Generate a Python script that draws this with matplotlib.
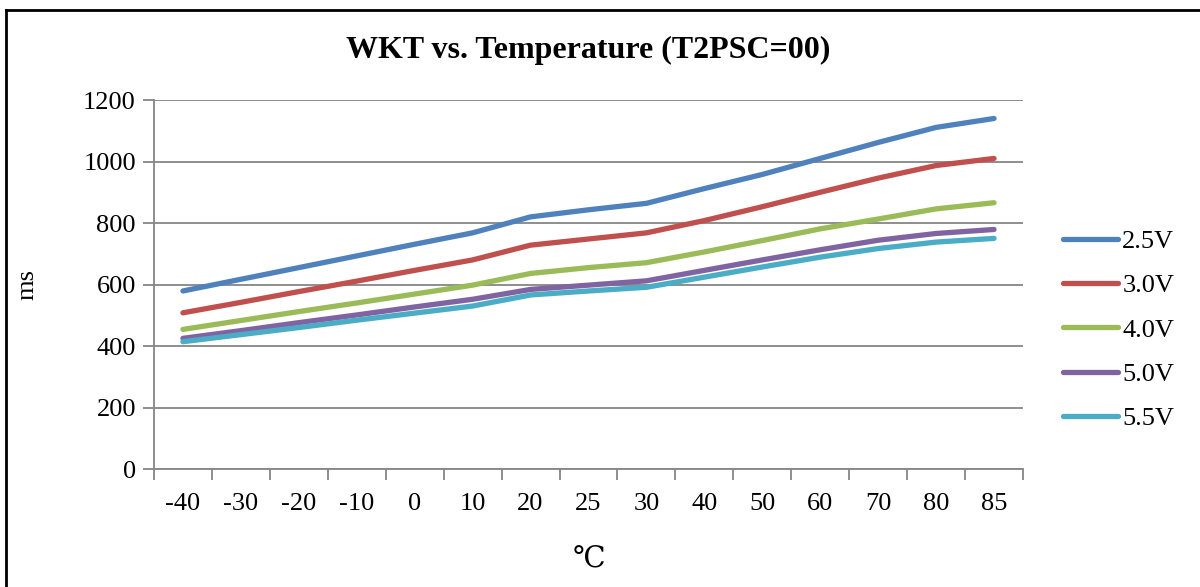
import numpy as np
import matplotlib
matplotlib.use('Agg')
from matplotlib import pyplot as plt
from matplotlib.lines import Line2D

plt.rcParams['font.family'] = ['Liberation Serif', 'DejaVu Serif']

# data
temps = ['-40', '-30', '-20', '-10', '0', '10', '20', '25', '30', '40', '50', '60', '70', '80', '85']
v25 = [579, 617, 655, 693, 731, 768, 820, 843, 864, 912, 958, 1010, 1062, 1111, 1140]
v30 = [508, 542, 577, 611, 646, 680, 728, 748, 768, 808, 853, 900, 946, 987, 1010]
v40 = [454, 483, 512, 540, 569, 598, 636, 655, 671, 706, 743, 781, 813, 846, 866]
v50 = [425, 450, 476, 501, 527, 552, 584, 598, 612, 646, 680, 713, 744, 766, 779]
v55 = [414, 437, 460, 484, 507, 530, 566, 579, 591, 624, 657, 689, 717, 738, 750]
labels = ['2.5V', '3.0V', '4.0V', '5.0V', '5.5V']
colors = ['#4F81BD', '#C0504D', '#9BBB59', '#8064A2', '#4BACC6']

fig = plt.figure(figsize=(12, 5.87), dpi=100)
ax = fig.add_axes([0.1283, 0.201, 0.7242, 0.6286])

x = np.arange(len(temps))
for vals, lab, c in zip([v25, v30, v40, v50, v55], labels, colors):
    ax.plot(x, vals, color=c, lw=3.8, label=lab, solid_capstyle='round', solid_joinstyle='round')

gray = '#868686'
ax.set_xlim(-0.5, len(temps) - 0.5)
ax.set_ylim(0, 1200)
ax.set_yticks(np.arange(0, 1201, 200))
ax.yaxis.grid(True, color=gray, lw=1.3)
ax.set_axisbelow(True)
ax.set_xticks(x)
ax.set_xticklabels(temps)
ax.set_xticks(np.arange(-0.5, len(temps), 1), minor=True)
ax.tick_params(axis='x', which='major', length=0, pad=17, labelsize=19)
ax.tick_params(axis='x', which='minor', length=8, color=gray, width=1.3, direction='out')
ax.tick_params(axis='y', length=8, color=gray, width=1.3, labelsize=19, pad=5)
for s in ['top', 'right']:
    ax.spines[s].set_visible(False)
for s in ['left', 'bottom']:
    ax.spines[s].set_color(gray)
    ax.spines[s].set_linewidth(1.3)

ax.set_title('WKT vs. Temperature (T2PSC=00)', fontsize=23, fontweight='bold', pad=30)
ax.set_ylabel('ms', fontsize=19, labelpad=32)
ax.set_xlabel('\u2103', fontsize=21, labelpad=24)

ax.legend(loc='center left', bbox_to_anchor=(1.046, 0.377), frameon=False, fontsize=19,
          handlelength=2.1, handletextpad=0.15, labelspacing=0.79, borderaxespad=0,
          borderpad=0)

# outer chart border (top and left edges visible in the reference)
fig.add_artist(Line2D([0.005, 1.0], [0.983, 0.983], transform=fig.transFigure, color='black', lw=2))
fig.add_artist(Line2D([0.005, 0.005], [0.0, 0.983], transform=fig.transFigure, color='black', lw=2))

plt.savefig('out.png', dpi=100)
